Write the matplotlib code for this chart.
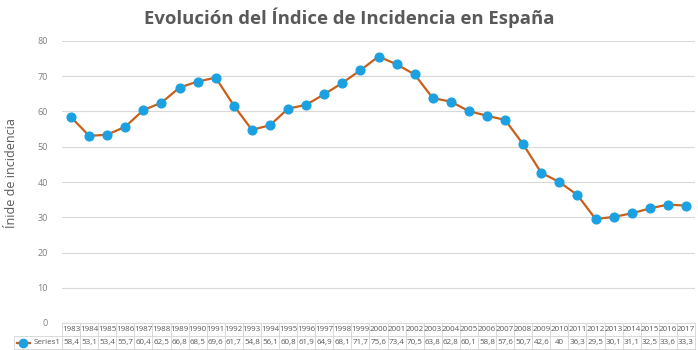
import matplotlib
matplotlib.use("Agg")
import matplotlib.pyplot as plt
import matplotlib.transforms as mtransforms
from matplotlib.lines import Line2D

# datos
years = list(range(1983, 2018))
values = [58.4, 53.1, 53.4, 55.7, 60.4, 62.5, 66.8, 68.5, 69.6, 61.7,
          54.8, 56.1, 60.8, 61.9, 64.9, 68.1, 71.7, 75.6, 73.4, 70.5,
          63.8, 62.8, 60.1, 58.8, 57.6, 50.7, 42.6, 40, 36.3, 29.5,
          30.1, 31.1, 32.5, 33.6, 33.3]
yticks = [0, 10, 20, 30, 40, 50, 60, 70, 80]
title = "Evolución del Índice de Incidencia en España"
ylabel = "Ínide de incidencia"
series_name = "Series1"

plt.rcParams['font.family'] = ['Open Sans', 'DejaVu Sans']

line_color = "#C9601A"
marker_color = "#1BA1E2"
grid_color = "#D9D9D9"
text_color = "#7F7F7F"

fig = plt.figure(figsize=(6.98, 3.5), dpi=100)
ax = fig.add_axes([62 / 698, 1 - 323 / 350, 633 / 698, 282 / 350])

x = list(range(len(years)))
ax.plot(x, values, color=line_color, lw=1.6, marker="o", ms=6.3,
        mfc=marker_color, mec=marker_color, zorder=3)

ax.set_xlim(-0.5, len(years) - 0.5)
ax.set_ylim(0, 80)
ax.set_yticks(yticks)
ax.set_xticks([])
ax.grid(axis="y", color=grid_color, lw=0.8)
ax.set_axisbelow(True)
for s in ax.spines.values():
    s.set_visible(False)
ax.tick_params(axis="y", length=0, pad=10, labelsize=6.5, labelcolor=text_color)

ax.set_ylabel(ylabel, fontsize=9, color="#595959")
ax.yaxis.set_label_coords(-0.07, 0.53)
fig.text(0.5, 1 - 18 / 350, title, ha="center", va="center",
         fontsize=13.3, fontweight="bold", color="#595959")

# tabla de datos bajo el eje
trans = mtransforms.blended_transform_factory(ax.transData, ax.transAxes)
rh = 13 / 282
tcol = "#D9D9D9"
tsize = 5.8
for i, (yr, v) in enumerate(zip(years, values)):
    ax.text(i, -rh / 2, str(yr), transform=trans, ha="center", va="center",
            fontsize=tsize, color="#595959", clip_on=False)
    ax.text(i, -1.5 * rh, f"{v:g}".replace(".", ","), transform=trans,
            ha="center", va="center", fontsize=tsize, color="#595959", clip_on=False)
for b in [i - 0.5 for i in range(len(years) + 1)]:
    ax.add_line(Line2D([b, b], [0, -2 * rh], transform=trans, color=tcol,
                       lw=0.7, clip_on=False))
for yy in [0, -rh, -2 * rh]:
    ax.add_line(Line2D([-0.5, len(years) - 0.5], [yy, yy], transform=trans,
                       color=tcol, lw=0.7, clip_on=False))
# celda de leyenda
lx0 = -48 / 633
for yy in [-rh, -2 * rh]:
    ax.add_line(Line2D([lx0, 0], [yy, yy], transform=ax.transAxes,
                       color=tcol, lw=0.7, clip_on=False))
ax.add_line(Line2D([lx0, lx0], [-rh, -2 * rh], transform=ax.transAxes,
                   color=tcol, lw=0.7, clip_on=False))
ax.add_line(Line2D([lx0 + 0.004, lx0 + 0.026], [-1.5 * rh, -1.5 * rh],
                   transform=ax.transAxes, color=line_color, lw=1.6, clip_on=False))
ax.add_line(Line2D([lx0 + 0.015], [-1.5 * rh], transform=ax.transAxes,
                   marker="o", ms=6, mfc=marker_color, mec=marker_color,
                   clip_on=False))
ax.text(-0.002, -1.5 * rh, series_name, transform=ax.transAxes, ha="right",
        va="center", fontsize=tsize, color="#595959", clip_on=False)

fig.savefig("out.png", dpi=100)
